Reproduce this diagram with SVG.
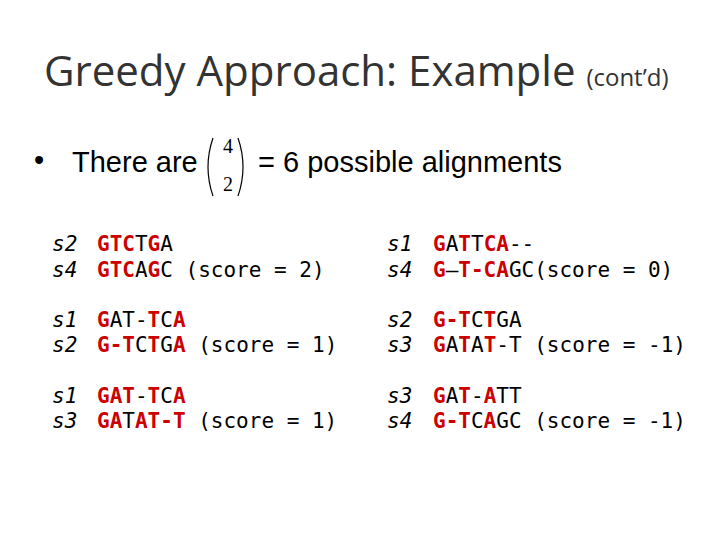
<svg xmlns="http://www.w3.org/2000/svg" width="720" height="540" viewBox="0 0 720 540">
<style>
.t{font-family:"Open Sans","Noto Sans",sans-serif;fill:#333}
.b{font-family:"Liberation Sans",Arial,sans-serif;font-size:29px;fill:#000}
.m{font-family:"DejaVu Sans Mono",monospace;font-size:21px;fill:#000}
.l{font-family:"DejaVu Sans Mono",monospace;font-size:21px;font-style:italic;fill:#000}
.r{fill:#cc0000;font-weight:bold}
.n{font-family:"Liberation Serif",serif;font-size:20px;fill:#000}
</style>
<rect width="720" height="540" fill="#fff"/>
<g id="title"><text class="t" x="44" y="86" font-size="42">Greedy Approach: Example <tspan font-size="24">(cont’d)</tspan></text></g>
<g id="bullet">
<text class="b" x="34" y="170" font-size="22">•</text>
<text class="b" x="72" y="172">There are</text>
<path d="M213,138 Q203,167 213,196" fill="none" stroke="#000" stroke-width="1.2"/>
<path d="M238,138 Q248,167 238,196" fill="none" stroke="#000" stroke-width="1.2"/>
<text class="n" x="228" y="153" text-anchor="middle">4</text>
<text class="n" x="228" y="191" text-anchor="middle">2</text>
<text class="b" x="258" y="172">= 6 possible alignments</text>
</g>
<g id="left">
<text class="l" x="52" y="251">s2</text><text class="l" x="52" y="277">s4</text>
<text class="m" x="97" y="251"><tspan class="r">GTC</tspan>T<tspan class="r">G</tspan>A</text>
<text class="m" x="97" y="277"><tspan class="r">GTC</tspan>A<tspan class="r">G</tspan>C (score = 2)</text>
<text class="l" x="52" y="327">s1</text><text class="l" x="52" y="352">s2</text>
<text class="m" x="97" y="327"><tspan class="r">G</tspan>AT-<tspan class="r">T</tspan>C<tspan class="r">A</tspan></text>
<text class="m" x="97" y="352"><tspan class="r">G-T</tspan>C<tspan class="r">T</tspan>G<tspan class="r">A</tspan> (score = 1)</text>
<text class="l" x="52" y="403">s1</text><text class="l" x="52" y="428">s3</text>
<text class="m" x="97" y="403"><tspan class="r">GAT</tspan>-<tspan class="r">T</tspan>C<tspan class="r">A</tspan></text>
<text class="m" x="97" y="428"><tspan class="r">GA</tspan>T<tspan class="r">AT-T</tspan> (score  = 1)</text>
</g>
<g id="right">
<text class="l" x="387" y="251">s1</text><text class="l" x="387" y="277">s4</text>
<text class="m" x="433" y="251"><tspan class="r">G</tspan>A<tspan class="r">T</tspan>T<tspan class="r">CA</tspan>--</text>
<text class="m" x="433" y="277"><tspan class="r">G</tspan>–<tspan class="r">T-CA</tspan>GC(score = 0)</text>
<text class="l" x="387" y="327">s2</text><text class="l" x="387" y="352">s3</text>
<text class="m" x="433" y="327"><tspan class="r">G-T</tspan>C<tspan class="r">T</tspan>GA</text>
<text class="m" x="433" y="352"><tspan class="r">G</tspan>A<tspan class="r">T</tspan>A<tspan class="r">T</tspan>-T (score = -1)</text>
<text class="l" x="387" y="403">s3</text><text class="l" x="387" y="428">s4</text>
<text class="m" x="433" y="403"><tspan class="r">G</tspan>A<tspan class="r">T</tspan>-<tspan class="r">A</tspan>TT</text>
<text class="m" x="433" y="428"><tspan class="r">G-T</tspan>C<tspan class="r">A</tspan>GC (score = -1)</text>
</g>
</svg>
